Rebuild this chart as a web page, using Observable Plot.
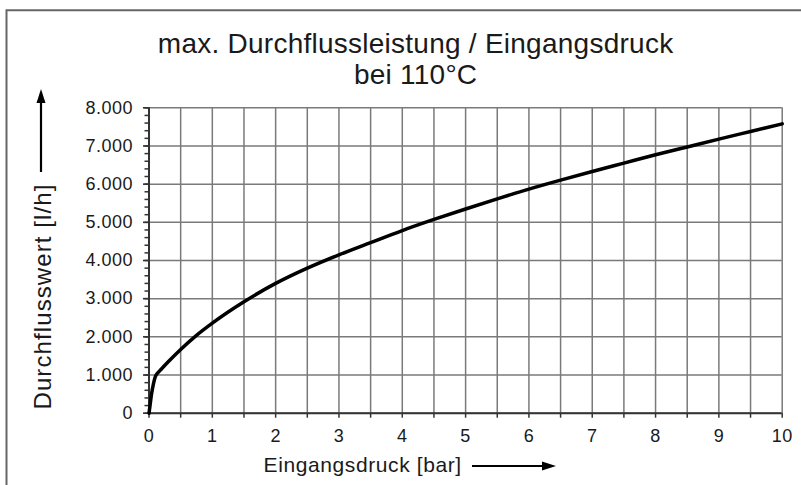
<!DOCTYPE html>
<html><head><meta charset="utf-8">
<script src="https://cdn.jsdelivr.net/npm/d3@7"></script>
<script src="https://cdn.jsdelivr.net/npm/@observablehq/plot@0.6"></script>
<style>body{margin:0;background:#fff;}</style>
</head><body><div id="chart"></div>
<script>
const pressure = [0, 0.02, 0.04, 0.07, 0.1, 0.13, 0.2, 0.3, 0.5, 0.75, 1, 1.5, 2, 2.5, 3, 3.5, 4, 4.5, 5, 5.5, 6, 6.5, 7, 7.5, 8, 8.5, 9, 9.5, 10];
const flow = [0, 250, 500, 770, 960, 1040, 1165, 1340, 1670, 2040, 2360, 2920, 3400, 3800, 4150, 4470, 4785, 5075, 5350, 5615, 5870, 6105, 6330, 6550, 6770, 6975, 7180, 7380, 7580];
const xTickValues = [0, 1, 2, 3, 4, 5, 6, 7, 8, 9, 10];
const xTickLabels = ["0", "1", "2", "3", "4", "5", "6", "7", "8", "9", "10"];
const xGridValues = [0, 0.5, 1, 1.5, 2, 2.5, 3, 3.5, 4, 4.5, 5, 5.5, 6, 6.5, 7, 7.5, 8, 8.5, 9, 9.5, 10];
const yTickValues = [0, 1000, 2000, 3000, 4000, 5000, 6000, 7000, 8000];
const yTickLabels = ["0", "1.000", "2.000", "3.000", "4.000", "5.000", "6.000", "7.000", "8.000"];
const yMinorValues = [0,200,400,600,800,1000,1200,1400,1600,1800,2000,2200,2400,2600,2800,3000,3200,3400,3600,3800,4000,4200,4400,4600,4800,5000,5200,5400,5600,5800,6000,6200,6400,6600,6800,7000,7200,7400,7600,7800,8000];
const titleLines = ["max. Durchflussleistung / Eingangsdruck", "bei 110°C"];
const xLabel = "Eingangsdruck [bar]";
const yLabel = "Durchflusswert [l/h]";

const data = pressure.map((p, i) => ({p, q: flow[i]}));
const font = '"Liberation Sans", Arial, Helvetica, sans-serif';

const chart = Plot.plot({
  width: 801, height: 485,
  marginLeft: 148.5, marginRight: 19.3, marginTop: 107.3, marginBottom: 72.3,
  style: {fontFamily: font, color: "#1a1a1a", background: "white", overflow: "visible"},
  x: {domain: [0, 10]},
  y: {domain: [0, 8000]},
  marks: [
    Plot.gridX(xGridValues, {stroke: "#7a7a7a", strokeOpacity: 1, strokeWidth: 1.5}),
    Plot.gridY(yTickValues, {stroke: "#7a7a7a", strokeOpacity: 1, strokeWidth: 1.5}),
    Plot.axisY(yMinorValues, {tickSize: 4, tickFormat: () => "", label: null, strokeWidth: 1.5, stroke: "#333"}),
    Plot.axisY(yTickValues, {tickSize: 5.5, tickPadding: 10.5, tickFormat: d => yTickLabels[yTickValues.indexOf(d)], fontSize: 18, label: null, strokeWidth: 1.6, stroke: "#333"}),
    Plot.axisX(xGridValues, {tickSize: 5, tickFormat: () => "", label: null, strokeWidth: 1.5, stroke: "#333"}),
    Plot.axisX(xTickValues, {tickSize: 0, tickPadding: 16, tickFormat: d => xTickLabels[xTickValues.indexOf(d)], fontSize: 18, label: null}),
    Plot.ruleX([0], {stroke: "#333", strokeWidth: 2}),
    Plot.ruleY([0], {stroke: "#333", strokeWidth: 2}),
    Plot.line(data, {x: "p", y: "q", stroke: "#000", strokeWidth: 3.5, curve: "monotone-x"}),
    Plot.text([titleLines[0]], {frameAnchor: "top", dx: -50, dy: -55.3, lineAnchor: "bottom", fontSize: 28, fill: "#1a1a1a"}),
    Plot.text([titleLines[1]], {frameAnchor: "top", dx: -50, dy: -24.3, lineAnchor: "bottom", fontSize: 28, fill: "#1a1a1a"}),
    Plot.text([xLabel], {frameAnchor: "bottom", dx: -202, dy: 59, lineAnchor: "bottom", textAnchor: "start", fontSize: 21, fill: "#1a1a1a"}),
    Plot.text([yLabel], {frameAnchor: "left", rotate: -90, dx: -106, dy: 36, textAnchor: "middle", lineAnchor: "middle", fontSize: 24, fill: "#1a1a1a"})
  ]
});
document.getElementById("chart").appendChild(chart);

const svg = d3.select(chart);
svg.selectAll("text").each(function() {
  const t = this.textContent;
  const el = d3.select(this);
  if (t === xLabel) el.style("letter-spacing", "0.6px");
  else if (t === yLabel) el.style("letter-spacing", "1.1px");
  else if (titleLines.includes(t)) el.style("letter-spacing", "0.25px");
  else if (yTickLabels.includes(t) || xTickLabels.includes(t)) el.style("letter-spacing", "0.5px");
});

// decorative frame and arrows
const deco = svg.append("g");
deco.append("path").attr("d", "M6.5,485 V10.3 H801").attr("fill", "none").attr("stroke", "#666").attr("stroke-width", 2);
deco.append("line").attr("x1", 41).attr("x2", 41).attr("y1", 172).attr("y2", 100).attr("stroke", "#000").attr("stroke-width", 2.2);
deco.append("path").attr("d", "M41,89 L36.5,103 L45.5,103 Z").attr("fill", "#000");
deco.append("line").attr("x1", 472).attr("x2", 545).attr("y1", 466).attr("y2", 466).attr("stroke", "#000").attr("stroke-width", 2.2);
deco.append("path").attr("d", "M556,466 L542,461.5 L542,470.5 Z").attr("fill", "#000");
</script>
</body></html>
